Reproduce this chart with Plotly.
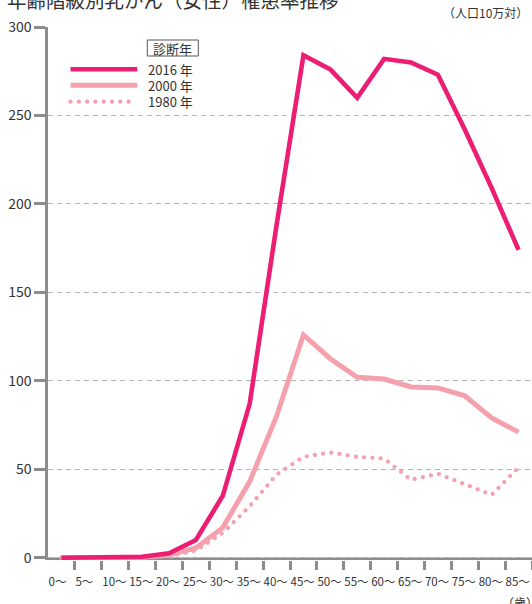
import plotly.graph_objects as go

# ---------------- data ----------------
age_labels = ["0～", "5～", "10～", "15～", "20～", "25～", "30～", "35～", "40～",
              "45～", "50～", "55～", "60～", "65～", "70～", "75～", "80～", "85～"]
inc_2016 = [0.0, 0.0, 0.1, 0.5, 2.5, 10, 35, 87, 188, 284, 276, 260, 282, 280, 273, 242, 209, 174]
inc_2000 = [0.0, 0.0, 0.1, 0.3, 1.5, 5.5, 17, 43, 80, 126, 112.5, 102, 101, 96.5, 96, 91.5, 79, 71]
inc_1980 = [0.0, 0.0, 0.0, 0.2, 0.8, 4, 14, 29, 47, 57, 59.5, 57, 56, 44, 47.5, 41.5, 35.5, 51]
series_names = ["2016 年", "2000 年", "1980 年"]
y_ticks = [0, 50, 100, 150, 200, 250, 300]

title_text = "年齢階級別乳がん（女性）罹患率推移"
unit_text = "（人口10万対）"
age_unit_text = "（歳）"
legend_title = "診断年"

# ---------------- style ----------------
W, H = 532, 604
L, R, T, B = 48, 0, 27, 44
PW, PH = W - L - R, H - T - B
C2016 = "#EC1E74"
C2000 = "#F5A1AD"
C1980 = "#F5A1AD"
AXIS = "#8C8C8C"
GRID = "#B4B4B4"
TXT = "#333333"
FONT = "Noto Sans CJK JP"


def px(xp):
    return (xp - L) / PW


def py(yp):
    return (T + PH - yp) / PH


xs = list(range(len(age_labels)))
fig = go.Figure()
fig.add_trace(go.Scatter(x=xs, y=inc_1980, mode="lines", name=series_names[2],
                         line=dict(color=C1980, width=4.3, dash="0px,8.3px")))
fig.add_trace(go.Scatter(x=xs, y=inc_2000, mode="lines", name=series_names[1],
                         line=dict(color=C2000, width=5)))
fig.add_trace(go.Scatter(x=xs, y=inc_2016, mode="lines", name=series_names[0],
                         line=dict(color=C2016, width=4.6)))

n = len(age_labels)
bounds = [i - 0.5 for i in range(n + 1)]

fig.update_layout(
    width=W, height=H, margin=dict(l=L, r=R, t=T, b=B, pad=0),
    paper_bgcolor="white", plot_bgcolor="white", showlegend=False,
    font=dict(family=FONT, color=TXT),
    xaxis=dict(range=[-0.5, n - 0.5], showgrid=False, zeroline=False, showline=False,
               tickmode="array", tickvals=bounds[:-1], ticktext=age_labels,
               tickangle=0,
               ticks="outside", ticklen=11, tickcolor="rgba(0,0,0,0)",
               ticklabelposition="outside right", ticklabelstandoff=11,
               tickfont=dict(size=11.5, color=TXT, family=FONT),
               minor=dict(tickmode="array", tickvals=bounds[1:], ticks="outside",
                          ticklen=9, tickwidth=2.5, tickcolor=AXIS, showgrid=False)),
    yaxis=dict(range=[-1.3, 300], tickmode="array", tickvals=y_ticks,
               showgrid=True, gridcolor=GRID, gridwidth=1, griddash="5px,4px",
               zeroline=False, showline=True, linecolor=AXIS, linewidth=2.5,
               ticks="outside", ticklen=11, tickwidth=2.5, tickcolor=AXIS,
               tickfont=dict(size=14, color=TXT, family=FONT)),
)

# x axis baseline drawn at value 0 beneath the traces
fig.add_shape(type="line", xref="paper", yref="y", x0=0, x1=1, y0=-0.6, y1=-0.6,
              line=dict(color=AXIS, width=2.5), layer="between")

# ---------------- manual legend ----------------
leg_y = [69.3, 85.3, 101.7]
leg_colors = [C2016, C2000, C1980]
leg_widths = [4.6, 5, 4.3]
leg_dash = ["solid", "solid", "0px,8.3px"]
leg_x1 = [137.3, 137.3, 131]
for i in range(3):
    fig.add_shape(type="line", xref="paper", yref="paper",
                  x0=px(70.5), x1=px(leg_x1[i]), y0=py(leg_y[i]), y1=py(leg_y[i]),
                  line=dict(color=leg_colors[i], width=leg_widths[i], dash=leg_dash[i]))
    fig.add_annotation(xref="paper", yref="paper", x=px(145.5), y=py(leg_y[i]),
                       xanchor="left", yanchor="middle", showarrow=False,
                       text=series_names[i], font=dict(size=13, color=TXT, family=FONT))

fig.add_shape(type="rect", xref="paper", yref="paper",
              x0=px(147.3), x1=px(198.3), y0=py(56), y1=py(40),
              line=dict(color="#555555", width=1), fillcolor="white")
fig.add_annotation(xref="paper", yref="paper", x=px(172.8), y=py(48),
                   xanchor="center", yanchor="middle", showarrow=False,
                   text=legend_title, font=dict(size=13, color=TXT, family=FONT))

# ---------------- texts ----------------
fig.add_annotation(xref="paper", yref="paper", x=px(5), y=py(-1),
                   xanchor="left", yanchor="middle", showarrow=False,
                   text=title_text, font=dict(size=19.5, color=TXT, family=FONT))
fig.add_annotation(xref="paper", yref="paper", x=px(530), y=py(13),
                   xanchor="right", yanchor="middle", showarrow=False,
                   text=unit_text, font=dict(size=12, color=TXT, family=FONT))
fig.add_annotation(xref="paper", yref="paper", x=px(520), y=py(602),
                   xanchor="center", yanchor="middle", showarrow=False,
                   text=age_unit_text, font=dict(size=12, color=TXT, family=FONT))

post_js = """
var gd = document.getElementById('{plot_id}');
function roundDots(){
  gd.querySelectorAll('path').forEach(function(p){
    var d = (p.style.strokeDasharray || p.getAttribute('stroke-dasharray') || '').trim();
    if (/^0(px)?[ ,]/.test(d)) { p.style.strokeLinecap = 'round'; }
  });
}
roundDots();
gd.on('plotly_afterplot', roundDots);
"""

fig.write_html("out.html", post_script=post_js)
